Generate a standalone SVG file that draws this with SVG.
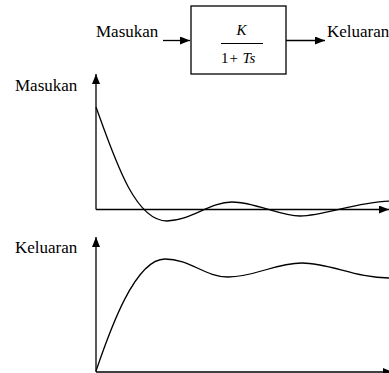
<svg xmlns="http://www.w3.org/2000/svg" width="389" height="373" viewBox="0 0 389 373">
<defs>
<marker id="ah" viewBox="0 0 10 8" refX="10" refY="4" markerWidth="10" markerHeight="8" markerUnits="userSpaceOnUse" orient="auto">
<path d="M0,0 L10,4 L0,8 Z" fill="#000"/>
</marker>
<style>
text{font-family:'Liberation Serif','Times New Roman',Times,serif;fill:#000}
.t{font-size:17px}
.m{font-size:15px}
.i{font-style:italic}
.ln{stroke:#000;stroke-width:1.3;fill:none}
</style>
</defs>
<rect width="389" height="373" fill="#fff"/>
<g id="block">
<rect x="191" y="6" width="95" height="68" class="ln"/>
<text class="m i" x="236.5" y="35">K</text>
<line x1="221" y1="43.5" x2="263" y2="43.5" stroke="#000" stroke-width="1"/>
<text class="m" y="63"><tspan x="221">1</tspan><tspan x="229.5">+</tspan><tspan x="242.5" font-style="italic">Ts</tspan></text>
</g>
<g id="input-label"><text class="t" x="96" y="37">Masukan</text></g>
<g id="output-label"><text class="t" x="327" y="37">Keluaran</text></g>
<g id="plot-input">
<text class="t" x="15" y="91">Masukan</text>
<path class="ln" d="M96,107 C115,160 135,221 167,221 C190,221 210,202 232,202 C255,202 280,216 300,216 C325,216 355,202 390,201"/>
</g>
<g id="plot-output">
<text class="t" x="15" y="253">Keluaran</text>
<path class="ln" d="M96,371 C110,330 135,259 165,259 C190,259 205,277 228,277 C255,277 275,263 302,263 C330,263 355,278 390,278"/>
</g>
<g id="connectors">
<line class="ln" x1="163" y1="40.5" x2="190" y2="40.5" marker-end="url(#ah)"/>
<line class="ln" x1="286" y1="40.5" x2="325" y2="40.5" marker-end="url(#ah)"/>
<line class="ln" x1="96" y1="209.5" x2="96" y2="74" marker-end="url(#ah)"/>
<line class="ln" x1="96" y1="209.5" x2="389" y2="209.5" marker-end="url(#ah)"/>
<line class="ln" x1="96" y1="372" x2="96" y2="237" marker-end="url(#ah)"/>
<line class="ln" x1="96" y1="372" x2="393" y2="372" marker-end="url(#ah)"/>
</g>
</svg>
